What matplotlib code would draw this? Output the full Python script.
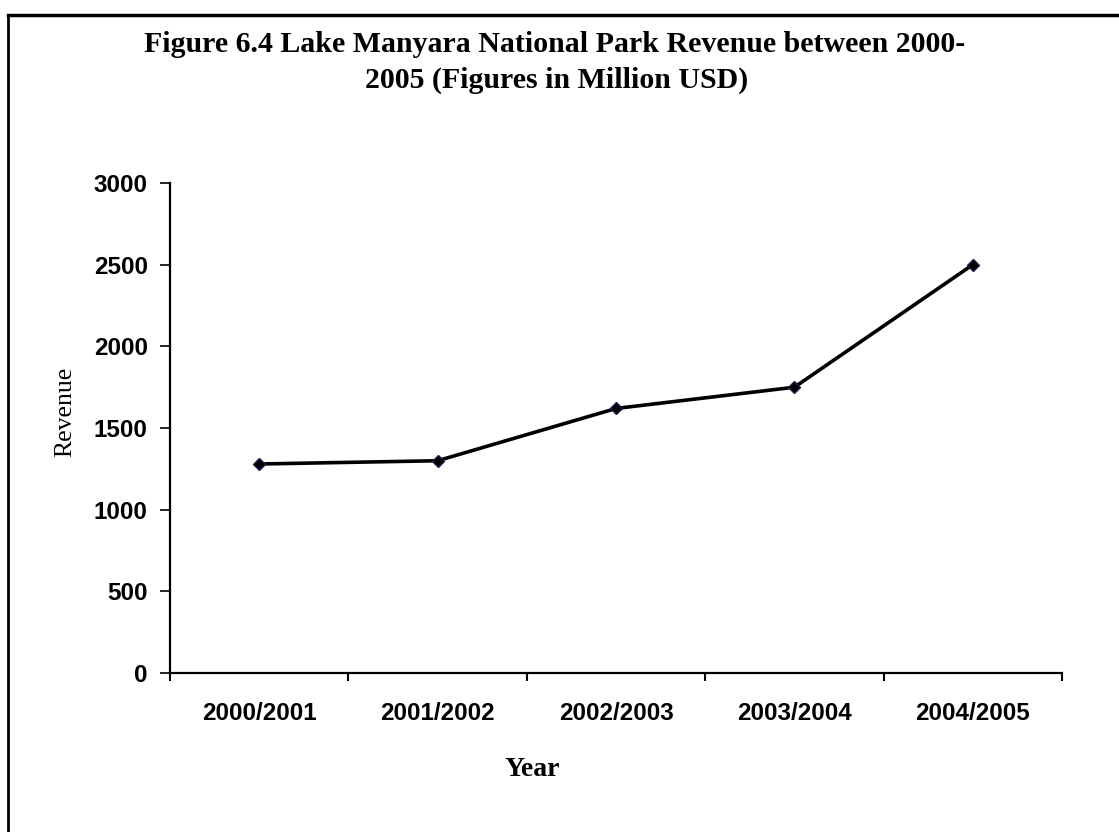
import matplotlib
matplotlib.use("Agg")
import matplotlib.pyplot as plt
from matplotlib.lines import Line2D
import numpy as np

# Datos
years = ["2000/2001", "2001/2002", "2002/2003", "2003/2004", "2004/2005"]
revenue = [1280, 1300, 1620, 1750, 2500]
y_ticks = [0, 500, 1000, 1500, 2000, 2500, 3000]

fig = plt.figure(figsize=(11.19, 8.32), dpi=100)
ax = fig.add_axes([0.152, 0.191, 0.797, 0.589])

x = np.arange(len(years))
ax.plot(x, revenue, color="black", linewidth=2.6, marker="D", markersize=6,
        markerfacecolor="black", markeredgecolor="#1a1a4a")

ax.set_xlim(-0.5, len(years) - 0.5)
ax.set_ylim(0, 3000)
ax.set_yticks(y_ticks)
ax.set_yticklabels([str(v) for v in y_ticks], fontsize=17.5, fontweight="bold",
                   family="Liberation Sans")

# etiquetas en el centro, marcas en los bordes de cada categoría
ax.set_xticks(np.arange(-0.5, len(years)), minor=True)
ax.set_xticks(x)
ax.set_xticklabels(years, fontsize=17.5, fontweight="bold", family="Liberation Sans")
ax.tick_params(axis="x", which="major", length=0, pad=21)
ax.tick_params(axis="x", which="minor", length=6, width=1.5, direction="out")
ax.tick_params(axis="y", length=7, width=1.2, direction="out", pad=9)

for s in ["top", "right"]:
    ax.spines[s].set_visible(False)
for s in ["left", "bottom"]:
    ax.spines[s].set_linewidth(1.6)

fig.text(0.058, 0.505, "Revenue", fontsize=18.5, family="Liberation Serif",
         rotation=90, ha="center", va="center")

fig.text(0.476, 0.075, "Year", fontsize=20, fontweight="bold",
         family="Liberation Serif", ha="center", va="center")

fig.text(0.496, 0.946, "Figure 6.4 Lake Manyara National Park Revenue between 2000-",
         fontsize=21.5, fontweight="bold", family="Liberation Serif",
         ha="center", va="center")
fig.text(0.497, 0.903, "2005 (Figures in Million USD)",
         fontsize=21.5, fontweight="bold", family="Liberation Serif",
         ha="center", va="center")

# borde del escaneo
fig.add_artist(Line2D([0.007, 0.007], [0, 0.982], color="black", linewidth=2,
                      transform=fig.transFigure))
fig.add_artist(Line2D([0.007, 1.0], [0.982, 0.982], color="black", linewidth=2.5,
                      transform=fig.transFigure))

fig.savefig("out.png", dpi=100)
